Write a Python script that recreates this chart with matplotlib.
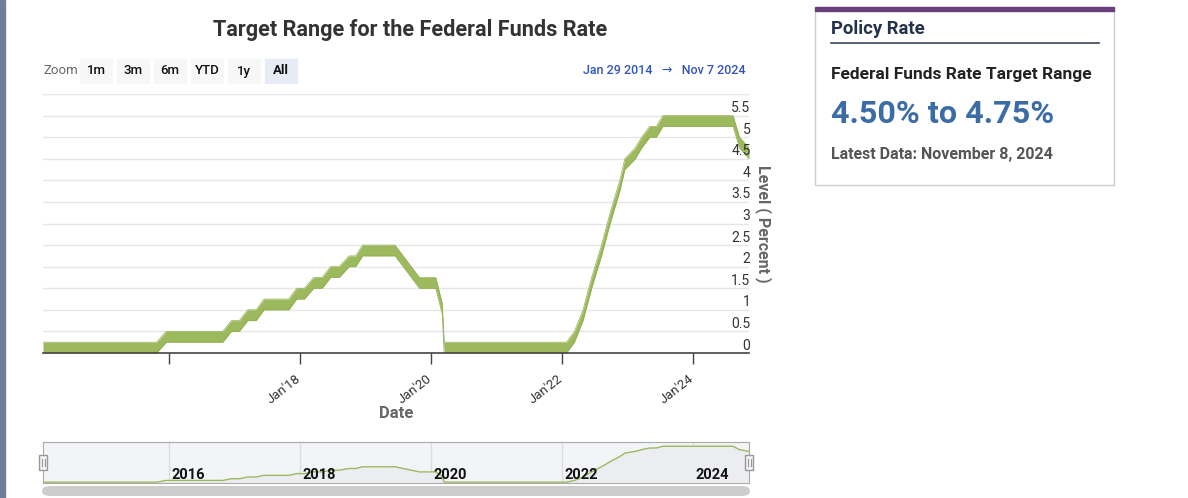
import numpy as np
import matplotlib
matplotlib.use("Agg")
import matplotlib.pyplot as plt
import matplotlib.dates as mdates
from matplotlib.patches import Rectangle, FancyBboxPatch
from datetime import datetime

plt.rcParams['font.family'] = ['Roboto', 'DejaVu Sans']

# vertices of the target range band
dates = ["2014-01-29", "2015-10-24", "2015-12-17", "2016-10-27", "2016-12-14",
         "2017-01-27", "2017-03-15", "2017-05-01", "2017-06-14", "2017-10-30",
         "2017-12-13", "2018-01-25", "2018-03-18", "2018-05-04", "2018-06-20",
         "2018-08-07", "2018-10-01", "2018-11-07", "2018-12-15", "2019-06-14",
         "2019-10-28", "2020-01-27", "2020-03-03", "2020-03-14", "2022-01-25",
         "2022-03-10", "2022-04-27", "2022-06-14", "2022-08-08", "2022-09-25",
         "2022-11-18", "2022-12-16", "2023-02-12", "2023-03-20", "2023-05-04",
         "2023-06-10", "2023-07-16", "2024-08-10", "2024-09-15", "2024-11-07"]
lower = [0.0, 0.0, 0.25, 0.25, 0.5,
         0.5, 0.75, 0.75, 1.0, 1.0,
         1.25, 1.25, 1.5, 1.5, 1.75,
         1.75, 2.0, 2.0, 2.25, 2.25,
         1.5, 1.5, 0.9, 0.0, 0.0,
         0.25, 0.75, 1.5, 2.25, 3.0,
         3.75, 4.25, 4.5, 4.75, 5.0,
         5.0, 5.25, 5.25, 4.75, 4.5]
upper = [0.25, 0.25, 0.5, 0.5, 0.75,
         0.75, 1.0, 1.0, 1.25, 1.25,
         1.5, 1.5, 1.75, 1.75, 2.0,
         2.0, 2.25, 2.25, 2.5, 2.5,
         1.75, 1.75, 1.15, 0.25, 0.25,
         0.5, 1.0, 1.75, 2.5, 3.25,
         4.0, 4.5, 4.75, 5.0, 5.25,
         5.25, 5.5, 5.5, 5.0, 4.75]

x_ticks = ["2016-01-01", "2018-01-01", "2020-01-01", "2022-01-01", "2024-01-01"]
x_labels = ["", "Jan'18", "Jan'20", "Jan'22", "Jan'24"]
nav_labels = ["2016", "2018", "2020", "2022", "2024"]
y_ticks = [0, 0.5, 1, 1.5, 2, 2.5, 3, 3.5, 4, 4.5, 5, 5.5]
zoom_buttons = ["1m", "3m", "6m", "YTD", "1y", "All"]

d = [datetime.strptime(s, "%Y-%m-%d") for s in dates]
xt = [datetime.strptime(s, "%Y-%m-%d") for s in x_ticks]
xmin, xmax = datetime(2014, 1, 29), datetime(2024, 11, 7)

W, H = 1188, 498
fig = plt.figure(figsize=(W / 100, H / 100), dpi=100)

def fx(px):
    return px / W

def fy(py):
    return 1 - py / H

# page border on the left
fig.patches.append(Rectangle((0, 0), fx(5), 1, transform=fig.transFigure,
                             color="#6f7f9b", zorder=0))

green = "#9db95e"
edge = "#8fad4c"
dark = "#333333"

# main chart
ax = fig.add_axes([fx(43), fy(353), fx(706), 259 / H])
ax.fill_between(d, lower, upper, color=green, lw=0)
ax.plot(d, lower, color=edge, lw=0.5)
ax.plot(d, upper, color=edge, lw=0.5)
ax.set_xlim(xmin, xmax)
ax.set_ylim(0, 6)
for v in y_ticks + [6]:
    ax.axhline(v, color="#e6e6e6", lw=1, zorder=0)
for s in ["left", "right", "top"]:
    ax.spines[s].set_visible(False)
ax.spines["bottom"].set_color("#444444")
ax.spines["bottom"].set_linewidth(1.2)
ax.set_yticks([])
ax.set_xticks(xt)
ax.set_xticklabels([])
ax.tick_params(axis="x", length=8, width=1, color="#444444", direction="out")
for t, lab in zip(xt, x_labels):
    ax.text(mdates.date2num(t) - 5, -0.56, lab, rotation=38, rotation_mode="anchor",
            ha="right", va="center", fontsize=9.5, color=dark)
for v in y_ticks:
    ax.text(1.002, v + 0.01, f"{v:g}", transform=ax.get_yaxis_transform(),
            ha="right", va="bottom", fontsize=10, color=dark)
ax.text(1.008, 0.5, "Level ( Percent )", transform=ax.transAxes, rotation=-90,
        ha="left", va="center", fontsize=11.5, color="#666666", fontweight="bold")
fig.text(fx(396), fy(413), "Date", ha="center", va="center", fontsize=12,
         color="#666666", fontweight="bold")

# title and range selector
fig.text(fx(410), fy(30), "Target Range for the Federal Funds Rate", ha="center",
         va="center", fontsize=15.6, fontweight="bold", color=dark)
fig.text(fx(43), fy(71), "Zoom", ha="left", va="center", fontsize=9.5, color="#666666")
for i, b in enumerate(zoom_buttons):
    x0 = 80 + i * 37
    fc = "#e6ebf5" if b == "All" else "#f7f7f7"
    fig.patches.append(Rectangle((fx(x0), fy(83)), fx(32), 24 / H,
                                 transform=fig.transFigure, color=fc, zorder=1))
    fig.text(fx(x0 + 16), fy(71), b, ha="center", va="center", fontsize=9.5,
             color="#111111", fontweight="bold" if b == "All" else "medium", zorder=2)
fig.text(fx(746), fy(71), "Jan 29 2014   \u2192   Nov 7 2024", ha="right", va="center",
         fontsize=9, color="#3355bb", fontweight="medium")

# navigator
nav = fig.add_axes([fx(43), fy(483), fx(706), 41 / H])
nav.set_facecolor("#f2f4f7")
mid = [(a + b) / 2 for a, b in zip(lower, upper)]
nav.fill_between(d, 0, mid, color="#ebedf0", lw=0)
nav.plot(d, mid, color=green, lw=1)
nav.set_xlim(xmin, xmax)
nav.set_ylim(0, 6)
nav.set_xticks([])
nav.set_yticks([])
for s in nav.spines.values():
    s.set_color("#aaaaaa")
for t, lab in zip(xt, nav_labels):
    nav.axvline(t, color="#dddddd", lw=1, zorder=0)
    nav.text(mdates.date2num(t) + 12, 1.2, lab, ha="left", va="center",
             fontsize=10.5, fontweight="bold", color="#111111")
for hx in [43, 749]:
    fig.patches.append(Rectangle((fx(hx - 4), fy(470)), fx(8), 15 / H,
                                 transform=fig.transFigure, fc="#f2f2f2",
                                 ec="#999999", lw=1, zorder=5))
    for dx in (-1.5, 1.5):
        fig.lines.append(plt.Line2D([fx(hx + dx)] * 2, [fy(466), fy(459)],
                                    transform=fig.transFigure, color="#999999",
                                    lw=0.8, zorder=6))
# scrollbar
fig.patches.append(FancyBboxPatch((fx(47), fy(494)), fx(698), 6 / H,
                                  boxstyle="round,pad=0.004,rounding_size=0.008",
                                  transform=fig.transFigure, fc="#cccccc", ec="none"))

# policy rate panel
fig.patches.append(Rectangle((fx(815), fy(185)), fx(299), 175 / H,
                             transform=fig.transFigure, fc="white", ec="#cccccc", lw=1))
fig.patches.append(Rectangle((fx(815), fy(11)), fx(299), 4 / H,
                             transform=fig.transFigure, color="#6a3f7c", zorder=3))
fig.text(fx(831), fy(29), "Policy Rate", ha="left", va="center", fontsize=13.3,
         fontweight="bold", color="#24324a")
fig.lines.append(plt.Line2D([fx(831), fx(1099)], [fy(43), fy(43)],
                            transform=fig.transFigure, color="#3a4556", lw=1.2))
fig.text(fx(831), fy(74), "Federal Funds Rate Target Range", ha="left", va="center",
         fontsize=12.5, fontweight="bold", color="#222222")
fig.text(fx(831), fy(114), "4.50% to 4.75%", ha="left", va="center", fontsize=23.3,
         fontweight="bold", color="#3b6ca6")
fig.text(fx(831), fy(155), "Latest Data: November 8, 2024", ha="left", va="center",
         fontsize=11.5, fontweight="bold", color="#555555")

fig.savefig("out.png", dpi=100)
